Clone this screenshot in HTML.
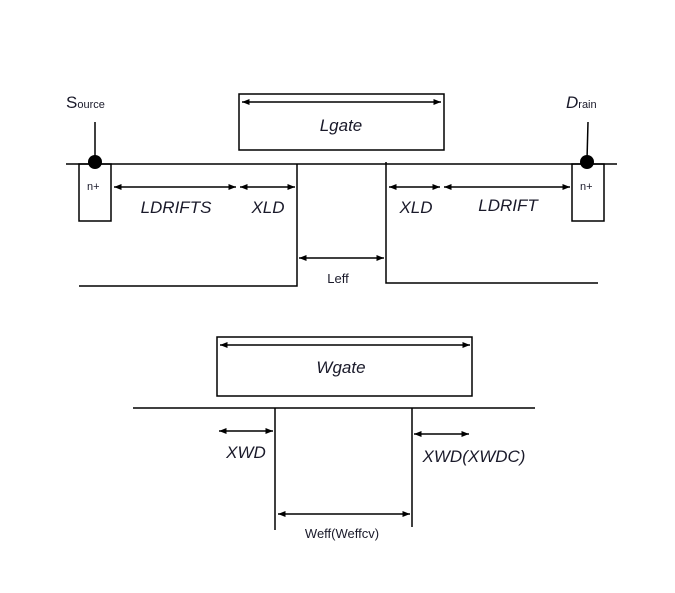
<!DOCTYPE html>
<html><head><style>
body{margin:0;background:#fff;}
text{font-family:"Liberation Sans",sans-serif;fill:#1a1a2a;}
</style></head><body>
<svg width="675" height="588" viewBox="0 0 675 588" xmlns="http://www.w3.org/2000/svg">
<defs>
<marker id="a" viewBox="0 0 10 10" refX="10" refY="5" markerWidth="5" markerHeight="5" orient="auto-start-reverse"><path d="M0,1L10,5L0,9z" fill="#000"/></marker>
</defs>
<g stroke="#000" stroke-width="1.5" fill="none">
<rect x="239" y="94" width="205" height="56"/>
<line x1="66" y1="164" x2="617" y2="164"/>
<rect x="79" y="164" width="32" height="57"/>
<rect x="572" y="164" width="32" height="57"/>
<line x1="95" y1="122" x2="95" y2="160"/>
<line x1="588" y1="122" x2="587" y2="160"/>
<polyline points="297,164 297,286 79,286"/>
<polyline points="386,162 386,283 598,283"/>
<rect x="217" y="337" width="255" height="59"/>
<line x1="133" y1="408" x2="535" y2="408"/>
<line x1="275" y1="408" x2="275" y2="530"/>
<line x1="412" y1="408" x2="412" y2="527"/>
</g>
<circle cx="95" cy="162" r="7" fill="#000"/>
<circle cx="587" cy="162" r="7" fill="#000"/>
<g stroke="#000" stroke-width="1.5" marker-start="url(#a)" marker-end="url(#a)">
<line x1="242" y1="102" x2="441" y2="102"/>
<line x1="114" y1="187" x2="236" y2="187"/>
<line x1="240" y1="187" x2="295" y2="187"/>
<line x1="299" y1="258" x2="384" y2="258"/>
<line x1="389" y1="187" x2="440" y2="187"/>
<line x1="444" y1="187" x2="570" y2="187"/>
<line x1="220" y1="345" x2="470" y2="345"/>
<line x1="219" y1="431" x2="273" y2="431"/>
<line x1="414" y1="434" x2="469" y2="434"/>
<line x1="278" y1="514" x2="410" y2="514"/>
</g>
<text x="66" y="108" font-size="17">S<tspan font-size="11">ource</tspan></text>
<text x="566" y="108" font-size="17" font-style="italic">D<tspan font-size="11" font-style="normal">rain</tspan></text>
<text x="87" y="190" font-size="11">n+</text>
<text x="580" y="190" font-size="11">n+</text>
<g font-size="17" font-style="italic" text-anchor="middle">
<text x="341" y="131">Lgate</text>
<text x="176" y="213">LDRIFTS</text>
<text x="268" y="213">XLD</text>
<text x="416" y="213">XLD</text>
<text x="508" y="211">LDRIFT</text>
<text x="341" y="373">Wgate</text>
<text x="246" y="458">XWD</text>
<text x="474" y="462">XWD(XWDC)</text>
</g>
<text x="338" y="283" font-size="13" text-anchor="middle">Leff</text>
<text x="342" y="538" font-size="13" text-anchor="middle">Weff(Weffcv)</text>
</svg>
</body></html>
